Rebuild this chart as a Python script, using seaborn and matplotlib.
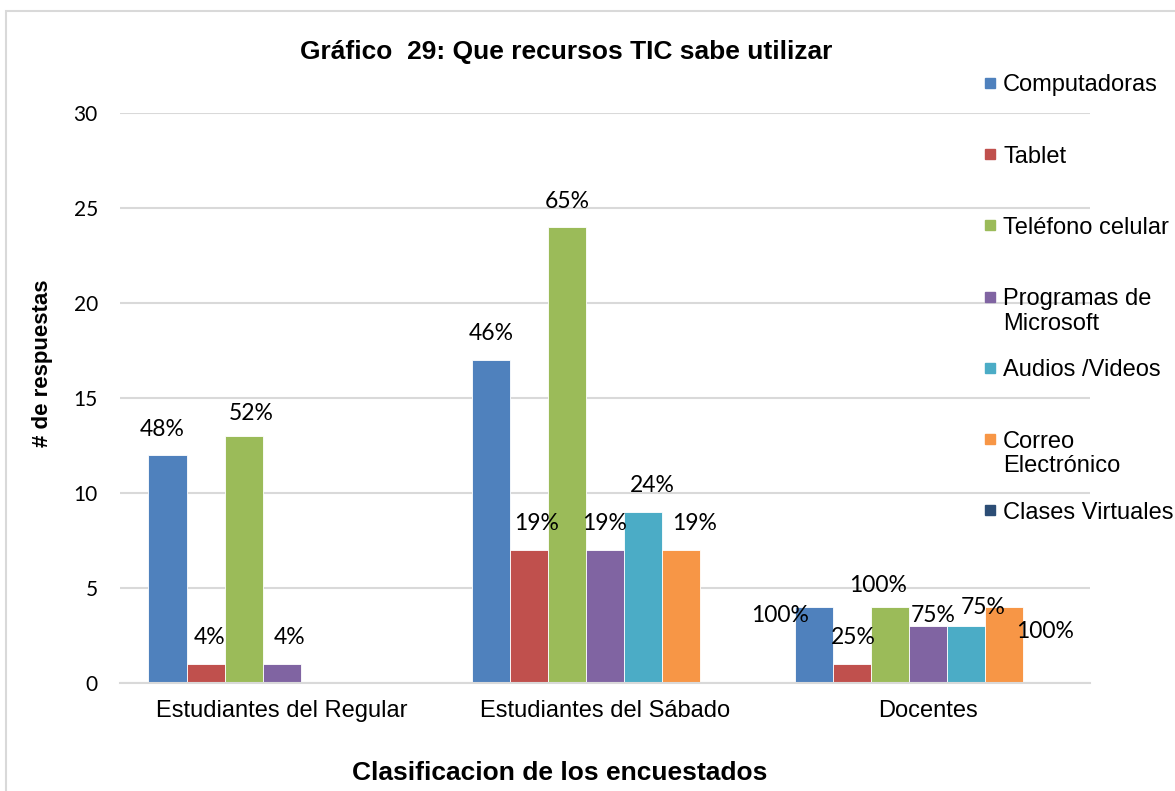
import pandas as pd
import numpy as np
import matplotlib.pyplot as plt
import seaborn as sns
from matplotlib.patches import Rectangle

# datos del grafico
grupos = ['Estudiantes del Regular', 'Estudiantes del Sábado', 'Docentes']
recursos = ['Computadoras', 'Tablet', 'Teléfono celular', 'Programas de\nMicrosoft',
            'Audios /Videos', 'Correo\nElectrónico', 'Clases Virtuales']

# respuestas por recurso (en el orden de grupos)
computadoras = [12, 17, 4]
tablet = [1, 7, 1]
telefono = [13, 24, 4]
programas = [1, 7, 3]
audios = [0, 9, 3]
correo = [0, 7, 4]
clases = [0, 0, 0]

# porcentajes que se muestran sobre cada barra ('' = sin etiqueta)
pct_computadoras = ['48%', '46%', '100%']
pct_tablet = ['4%', '19%', '25%']
pct_telefono = ['52%', '65%', '100%']
pct_programas = ['4%', '19%', '75%']
pct_audios = ['', '24%', '75%']
pct_correo = ['', '19%', '100%']
pct_clases = ['', '', '']

colores = ['#4F81BD', '#C0504D', '#9BBB59', '#8064A2', '#4BACC6', '#F79646', '#2C4D75']

valores = [computadoras, tablet, telefono, programas, audios, correo, clases]
porcentajes = [pct_computadoras, pct_tablet, pct_telefono, pct_programas,
               pct_audios, pct_correo, pct_clases]

df = pd.DataFrame({
    'grupo': grupos * len(recursos),
    'recurso': np.repeat(recursos, len(grupos)),
    'respuestas': np.concatenate(valores),
})

# desplazamiento de cada etiqueta (pixeles) respecto al centro superior de la barra
# (recurso, grupo): (dx, dy) ; el resto va centrado 26 px arriba
desplaz = {
    (0, 0): (-5, 26), (1, 0): (4, 26), (2, 0): (8, 23), (3, 0): (8, 26),
    (1, 1): (8, 26), (4, 1): (9, 26), (5, 1): (13, 26),
    (0, 2): (-34, -8), (1, 2): (1, 27), (2, 2): (-12, 22), (3, 2): (5, 11),
    (4, 2): (17, 19), (5, 2): (41, -25),
}

sns.set_style('white')
plt.rcParams['font.family'] = ['Liberation Sans', 'DejaVu Sans']
plt.rcParams['text.color'] = 'black'
plt.rcParams['axes.labelcolor'] = 'black'
plt.rcParams['xtick.color'] = 'black'
plt.rcParams['ytick.color'] = 'black'

fig = plt.figure(figsize=(11.75, 7.91), dpi=100)
ax = fig.add_axes([120 / 1175, 1 - 683 / 791, 970 / 1175, 570 / 791])

sns.barplot(data=df, x='grupo', y='respuestas', hue='recurso', order=grupos,
            hue_order=recursos, palette=colores, saturation=1, width=0.824,
            errorbar=None, edgecolor='white', linewidth=0.6, legend=False, ax=ax)

for i, cont in enumerate(ax.containers):
    for j, bar in enumerate(cont):
        txt = porcentajes[i][j]
        if not txt:
            continue
        dx, dy = desplaz.get((i, j), (0, 26))
        ax.annotate(txt, (bar.get_x() + bar.get_width() / 2, bar.get_height()),
                    xytext=(dx, dy), textcoords='offset pixels', ha='center',
                    va='center', fontsize=16.5, family='Lato')

ax.set_xlim(-0.5, 2.5)
ax.set_ylim(0, 30)
ax.set_yticks(range(0, 31, 5))
ax.yaxis.grid(True, color='#d9d9d9', lw=1.5)
ax.set_axisbelow(True)
for s in ['top', 'right', 'left']:
    ax.spines[s].set_visible(False)
ax.spines['bottom'].set_color('#d9d9d9')
ax.spines['bottom'].set_linewidth(1.5)
ax.tick_params(axis='y', length=0, pad=16, labelsize=15)
ax.tick_params(axis='x', length=0, pad=12, labelsize=17)
for lbl in ax.get_yticklabels():
    lbl.set_family('Lato')

ax.set_ylabel('# de respuestas', fontsize=16, weight='bold', va='center')
ax.yaxis.set_label_coords(-0.0804, 0.561)
ax.set_xlabel('Clasificacion de los encuestados', fontsize=19, weight='bold', va='center')
ax.xaxis.set_label_coords(0.4536, -0.158)

fig.text(566 / 1175, 1 - 52 / 791, 'Gráfico  29: Que recursos TIC sabe utilizar',
         fontsize=19, weight='bold', ha='center', va='center')

# leyenda al estilo de excel: paso fijo, cuadro alineado con la primera linea
for k, (nombre, color) in enumerate(zip(recursos, colores)):
    y = 1 - (83 + k * 71.2) / 791
    fig.add_artist(Rectangle((985 / 1175, y - 5 / 791), 10 / 1175, 10 / 791,
                             transform=fig.transFigure, color=color))
    for n, linea in enumerate(nombre.split('\n')):
        fig.text(1003 / 1175, y - n * 25 / 791, linea, va='center_baseline', fontsize=17)

# borde del area del grafico
fig.add_artist(Rectangle((6 / 1175, -0.05), 1.2, 1.05 - 11 / 791, transform=fig.transFigure,
                         fill=False, edgecolor='#d9d9d9', lw=1.5))

plt.savefig('out.png', dpi=100)
